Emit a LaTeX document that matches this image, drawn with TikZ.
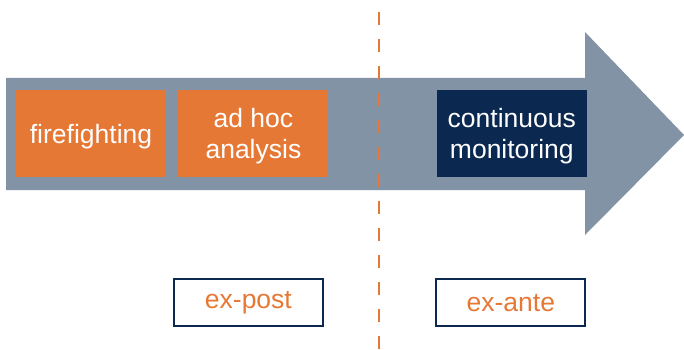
\documentclass[tikz,border=0pt]{standalone}
\usepackage{fontspec}
\setmainfont{Liberation Sans}
\usetikzlibrary{positioning}
\definecolor{shaftgray}{HTML}{8293A6}
\definecolor{fireorange}{HTML}{E67835}
\definecolor{navyblue}{HTML}{0A2850}

\begin{document}
\begin{tikzpicture}[x=1pt, y=-1pt,
                font=\fontsize{26.5}{30.5}\selectfont,
                stage/.style={rectangle, fill=fireorange, text=white, align=center,
                              minimum width=150pt, minimum height=87pt, inner sep=0pt,
                              text depth=0pt},
                era/.style={draw=navyblue, line width=2pt, rectangle, text=fireorange,
                            minimum width=149pt, minimum height=47pt, inner sep=0pt}]
        \useasboundingbox (0,0) rectangle (684,350);

%% arrow
        \fill [shaftgray] (6,78) -- (585,78) -- (585,32) -- (684,135)
                -- (585,235) -- (585,190) -- (6,190) -- cycle;

        \node [stage] at (91,133.5) (fire) {firefighting};
        \node [stage, right = 12pt of fire] (adhoc) {ad hoc\\analysis};
        \node [stage, fill=navyblue, right = 108pt of adhoc] (monitor) {continuous\\monitoring};

        \node [era, below = 101pt of adhoc, xshift=-5pt] (expost) {ex-post};
        \node [era, below = 101pt of monitor, xshift=-1pt] (exante) {ex-ante};

%% paths
        \coordinate (cuttop) at (379,12);
        \coordinate (cutbottom) at (379,350);
        \draw [fireorange, line width=2.7pt, dash pattern=on 13pt off 14pt] (cuttop) -- (cutbottom);
\end{tikzpicture}
\end{document}
